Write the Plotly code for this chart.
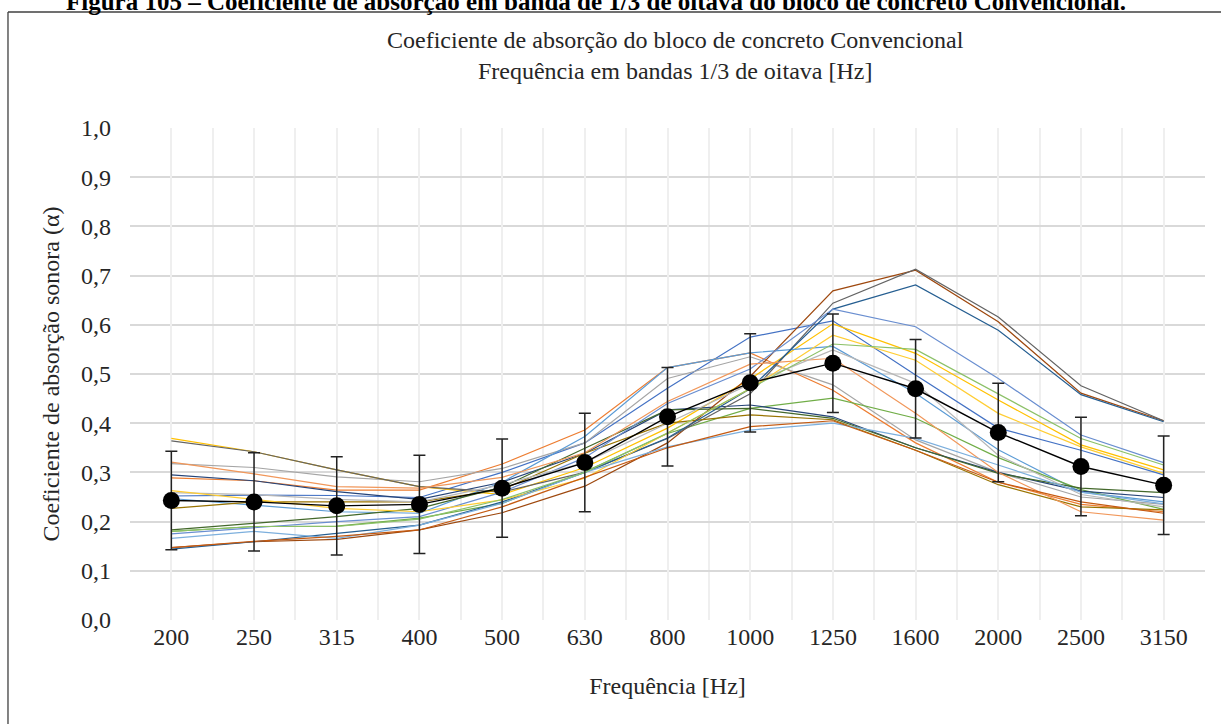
import plotly.graph_objects as go

# Bandas de 1/3 de oitava
freqs = ["200", "250", "315", "400", "500", "630", "800", "1000", "1250", "1600", "2000", "2500", "3150"]

# Coeficiente de absorção de cada medição
s01 = [0.252, 0.254, 0.253, 0.249, 0.300, 0.360, 0.471, 0.575, 0.608, 0.498, 0.390, 0.345, 0.295]
s02 = [0.289, 0.283, 0.264, 0.264, 0.317, 0.386, 0.513, 0.543, 0.467, 0.360, 0.280, 0.235, 0.220]
s03 = [0.318, 0.310, 0.291, 0.281, 0.308, 0.360, 0.491, 0.535, 0.478, 0.366, 0.300, 0.250, 0.235]
s04 = [0.369, 0.342, 0.305, 0.271, 0.255, 0.310, 0.390, 0.490, 0.602, 0.542, 0.447, 0.356, 0.305]
s05 = [0.247, 0.234, 0.220, 0.217, 0.280, 0.373, 0.513, 0.543, 0.556, 0.461, 0.346, 0.260, 0.240]
s06 = [0.180, 0.190, 0.191, 0.207, 0.237, 0.301, 0.379, 0.430, 0.451, 0.410, 0.330, 0.265, 0.225]
s07 = [0.295, 0.283, 0.261, 0.245, 0.280, 0.339, 0.427, 0.437, 0.413, 0.350, 0.300, 0.262, 0.249]
s08 = [0.147, 0.159, 0.164, 0.183, 0.218, 0.272, 0.360, 0.495, 0.669, 0.711, 0.606, 0.461, 0.405]
s09 = [0.364, 0.342, 0.305, 0.271, 0.260, 0.300, 0.369, 0.460, 0.644, 0.713, 0.616, 0.476, 0.405]
s10 = [0.227, 0.240, 0.240, 0.240, 0.265, 0.339, 0.400, 0.417, 0.407, 0.345, 0.275, 0.230, 0.224]
s11 = [0.144, 0.159, 0.176, 0.193, 0.240, 0.300, 0.370, 0.470, 0.632, 0.681, 0.589, 0.458, 0.403]
s12 = [0.183, 0.197, 0.210, 0.227, 0.270, 0.349, 0.427, 0.430, 0.410, 0.350, 0.298, 0.268, 0.259]
s13 = [0.175, 0.187, 0.200, 0.210, 0.260, 0.330, 0.440, 0.510, 0.632, 0.596, 0.491, 0.376, 0.320]
s14 = [0.321, 0.297, 0.271, 0.268, 0.290, 0.340, 0.444, 0.520, 0.532, 0.420, 0.300, 0.220, 0.203]
s15 = [0.259, 0.255, 0.245, 0.240, 0.275, 0.320, 0.400, 0.480, 0.549, 0.481, 0.335, 0.255, 0.230]
s16 = [0.263, 0.245, 0.227, 0.220, 0.244, 0.288, 0.380, 0.470, 0.579, 0.528, 0.420, 0.352, 0.298]
s17 = [0.166, 0.180, 0.166, 0.193, 0.237, 0.300, 0.352, 0.386, 0.400, 0.369, 0.315, 0.260, 0.236]
s18 = [0.180, 0.190, 0.190, 0.205, 0.245, 0.300, 0.380, 0.470, 0.561, 0.550, 0.460, 0.369, 0.315]
s19 = [0.147, 0.160, 0.170, 0.183, 0.230, 0.290, 0.350, 0.393, 0.405, 0.345, 0.280, 0.240, 0.217]

series = [s01, s02, s03, s04, s05, s06, s07, s08, s09, s10,
          s11, s12, s13, s14, s15, s16, s17, s18, s19]

colors = ["#4472C4", "#ED7D31", "#A5A5A5", "#FFC000", "#5B9BD5", "#70AD47",
          "#264478", "#9E480E", "#636363", "#997300", "#255E91", "#43682B",
          "#698ED0", "#F1975A", "#B7B7B7", "#FFCD33", "#7CAFDD", "#8CC168",
          "#C55A11"]

# Média e desvio
media = [0.243, 0.240, 0.232, 0.235, 0.268, 0.320, 0.413, 0.482, 0.522, 0.470, 0.381, 0.312, 0.274]
desvio = 0.1

FONT = "Liberation Serif, Times New Roman, serif"
TXT = "#262626"

fig = go.Figure()

for vals, col in zip(series, colors):
    fig.add_trace(go.Scatter(
        x=freqs, y=vals, mode="lines",
        line=dict(color=col, width=1.2),
        hoverinfo="skip", showlegend=False,
    ))

fig.add_trace(go.Scatter(
    x=freqs, y=media, mode="lines+markers",
    line=dict(color="black", width=1.4),
    marker=dict(color="black", size=17),
    error_y=dict(type="constant", value=desvio, color="#222222", thickness=1.5, width=6),
    showlegend=False, xaxis="x2",
))

fig.update_layout(
    width=1221, height=724,
    margin=dict(l=130, r=16, t=128, b=104),
    paper_bgcolor="white", plot_bgcolor="white",
    separators=",.",
    font=dict(family=FONT, size=24, color=TXT),
    showlegend=False,
    title=dict(
        text="Coeficiente de absorção do bloco de concreto Convencional<br>Frequência em bandas 1/3 de oitava [Hz]",
        x=0.553, xanchor="center", y=0.934, yanchor="middle",
        font=dict(family=FONT, size=24, color=TXT),
    ),
    xaxis=dict(
        type="category", categoryorder="array", categoryarray=freqs,
        range=[-0.5, len(freqs) - 0.5],
        tickson="boundaries", ticks="", showgrid=True,
        gridcolor="#efefef", gridwidth=1.5,
        showline=False, zeroline=False,
        tickfont=dict(family=FONT, size=24, color=TXT),
        title=dict(text="Frequência [Hz]", standoff=28,
                   font=dict(family=FONT, size=24, color=TXT)),
    ),
    xaxis2=dict(
        type="category", categoryorder="array", categoryarray=freqs,
        range=[-0.5, len(freqs) - 0.5],
        overlaying="x", matches="x", showticklabels=False, ticks="",
        showgrid=True, gridcolor="#efefef", gridwidth=1.5,
        showline=False, zeroline=False,
    ),
    yaxis=dict(
        range=[0, 1.0], dtick=0.1, tickformat=".1f",
        showgrid=True, gridcolor="#d9d9d9", gridwidth=1.5,
        zeroline=False, showline=False, ticks="", ticklabelstandoff=18,
        tickfont=dict(family=FONT, size=24, color=TXT),
        title=dict(text="Coeficiente de absorção sonora (α)", standoff=14,
                   font=dict(family=FONT, size=24, color=TXT)),
    ),
)

# Moldura da figura
fig.add_shape(type="line", xref="paper", yref="paper",
              x0=-0.1135, x1=-0.1135, y0=-0.3, y1=1.2358,
              line=dict(color="#404040", width=1.3))
fig.add_shape(type="line", xref="paper", yref="paper",
              x0=-0.1135, x1=1.05, y0=1.2358, y1=1.2358,
              line=dict(color="#404040", width=1.3))

# Legenda da figura no topo da página
fig.add_annotation(
    text="<b>Figura 105 – Coeficiente de absorção em banda de 1/3 de oitava do bloco de concreto Convencional.</b>",
    xref="paper", yref="paper", x=0.4335, y=1.258, xanchor="center", yanchor="middle",
    showarrow=False, font=dict(family=FONT, size=25, color="black"),
)

fig.write_html("out.html")
